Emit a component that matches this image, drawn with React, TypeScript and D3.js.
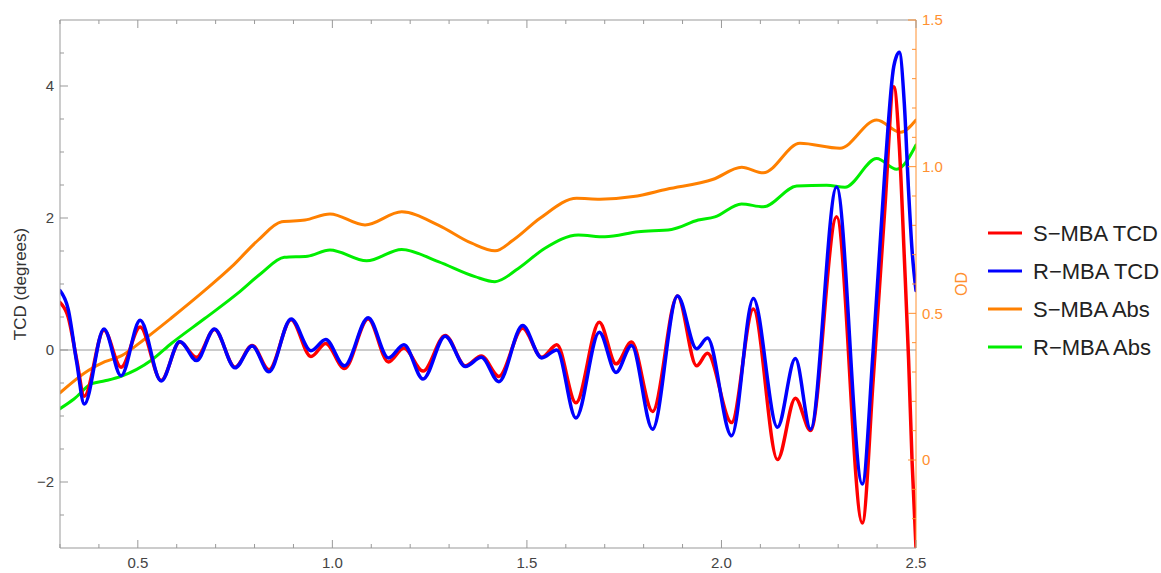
import React from 'react';
import * as d3 from 'd3';

// TCD curves (left axis, degrees)
const tcdX = [0.300, 0.321, 0.343, 0.3625, 0.413, 0.457, 0.506, 0.560, 0.608, 0.651, 0.697, 0.750, 0.794, 0.837, 0.894, 0.945, 0.983, 1.031, 1.092, 1.144, 1.184, 1.233, 1.290, 1.342, 1.383, 1.428, 1.489, 1.538, 1.577, 1.626, 1.686, 1.729, 1.769, 1.823, 1.887, 1.936, 1.964, 2.026, 2.082, 2.144, 2.190, 2.229, 2.296, 2.362, 2.390, 2.420, 2.443, 2.457, 2.470, 2.481, 2.490, 2.500];
const sMbaTcd = [0.72, 0.50, -0.15, -0.70, 0.30, -0.26, 0.35, -0.46, 0.12, -0.11, 0.31, -0.26, 0.07, -0.30, 0.46, -0.10, 0.10, -0.28, 0.47, -0.18, 0.03, -0.32, 0.22, -0.24, -0.09, -0.40, 0.33, -0.11, 0.08, -0.80, 0.42, -0.21, 0.12, -0.93, 0.82, -0.24, -0.05, -1.10, 0.62, -1.66, -0.73, -1.22, 2.02, -2.62, -0.45, 2.15, 3.99, 3.10, 1.40, -0.15, -1.70, -3.00];
const rMbaTcd = [0.90, 0.62, -0.19, -0.82, 0.32, -0.39, 0.45, -0.47, 0.13, -0.16, 0.32, -0.27, 0.06, -0.33, 0.47, -0.01, 0.16, -0.24, 0.49, -0.12, 0.08, -0.44, 0.21, -0.25, -0.11, -0.48, 0.37, -0.12, 0.00, -1.03, 0.27, -0.34, 0.07, -1.20, 0.82, 0.02, 0.18, -1.30, 0.78, -1.17, -0.13, -1.20, 2.47, -2.03, 0.00, 2.71, 4.30, 4.51, 3.73, 2.40, 1.50, 0.90];

// Absorbance curves (right axis, OD)
const sAbsX = [0.300, 0.3727, 0.4155, 0.4586, 0.5152, 0.5869, 0.6727, 0.7413, 0.8096, 0.8698, 0.9297, 0.9939, 1.0839, 1.1782, 1.2722, 1.3581, 1.4180, 1.4650, 1.5336, 1.6279, 1.6878, 1.7734, 1.8592, 1.9790, 2.0520, 2.1075, 2.2018, 2.3046, 2.3989, 2.4606, 2.500];
const sMbaAbs = [0.229, 0.305, 0.335, 0.356, 0.410, 0.485, 0.579, 0.659, 0.750, 0.812, 0.818, 0.839, 0.801, 0.846, 0.801, 0.739, 0.713, 0.750, 0.824, 0.892, 0.889, 0.898, 0.923, 0.957, 0.998, 0.979, 1.080, 1.063, 1.159, 1.117, 1.159];
const rAbsX = [0.300, 0.336, 0.3815, 0.4155, 0.4586, 0.5357, 0.5869, 0.6727, 0.7565, 0.8165, 0.8764, 0.9363, 0.9939, 1.0881, 1.1782, 1.2722, 1.3666, 1.4180, 1.4779, 1.5464, 1.6320, 1.7006, 1.7862, 1.8717, 1.9403, 1.9831, 2.0515, 2.1075, 2.1933, 2.2704, 2.3174, 2.3989, 2.4503, 2.500];
const rMbaAbs = [0.175, 0.208, 0.260, 0.270, 0.286, 0.341, 0.398, 0.483, 0.568, 0.636, 0.691, 0.695, 0.716, 0.679, 0.718, 0.676, 0.625, 0.608, 0.653, 0.722, 0.767, 0.761, 0.778, 0.786, 0.818, 0.829, 0.873, 0.863, 0.934, 0.937, 0.930, 1.028, 0.991, 1.074];

const xMajorTicks = [0.5, 1.0, 1.5, 2.0, 2.5];
const leftMajorTicks = [-2, 0, 2, 4];
const rightMajorTicks = [0, 0.5, 1.0, 1.5];
const legendLabels = ['S\u2212MBA TCD', 'R\u2212MBA TCD', 'S\u2212MBA Abs', 'R\u2212MBA Abs'];
const seriesColors = ['#FF0000', '#0000FF', '#FF8000', '#00EE00'];

export default function App() {
  const W = 1161, H = 573;
  const L = 60, R = 916, T = 20, B = 548;
  const x = d3.scaleLinear().domain([0.3, 2.5]).range([L, R]);
  const yL = d3.scaleLinear().domain([-3, 5]).range([B, T]);
  const yR = d3.scaleLinear().domain([-0.3, 1.5]).range([B, T]);

  const frame = '#999999';
  const orangeAxis = '#FF9030';
  const labelColor = '#444444';
  const tickFont = 15;

  const mkLine = (xs: number[], ys: number[], ys2: any) =>
    d3.line<number>().x((_, i) => x(xs[i])).y((_, i) => ys2(ys[i])).curve(d3.curveMonotoneX)(ys) || '';

  const xMinor = d3.range(3, 26).map(i => i / 10).filter(v => !xMajorTicks.some(m => Math.abs(m - v) < 1e-6));
  const leftMinor = d3.range(-6, 11).map(i => i / 2).filter(v => !leftMajorTicks.includes(v) && v > -3 && v < 5);
  const rightMinor = d3.range(-3, 16).map(i => i / 10).filter(v => !rightMajorTicks.some(m => Math.abs(m - v) < 1e-6) && v > -0.3);

  const fmt = (v: number) => (v < 0 ? '\u2212' + Math.abs(v) : String(v));
  const fmt1 = (v: number) => (v === 0 ? '0' : v.toFixed(1));

  return (
    <svg width={W} height={H} style={{ position: 'absolute', left: 0, top: 0, background: '#fff' }}
      fontFamily="'Liberation Sans', Arial, sans-serif">
      <defs>
        <clipPath id="plotclip">
          <rect x={L} y={T} width={R - L} height={B - T} />
        </clipPath>
      </defs>
      <rect x={0} y={0} width={W} height={H} fill="#fff" />

      {/* zero line */}
      <line x1={L} x2={R} y1={yL(0)} y2={yL(0)} stroke="#999" strokeWidth={1.2} />

      {/* curves */}
      <g clipPath="url(#plotclip)" fill="none" strokeLinejoin="round" strokeLinecap="round">
        <path d={mkLine(sAbsX, sMbaAbs, yR)} stroke={seriesColors[2]} strokeWidth={3} />
        <path d={mkLine(rAbsX, rMbaAbs, yR)} stroke={seriesColors[3]} strokeWidth={3} />
        <path d={mkLine(tcdX, sMbaTcd, yL)} stroke={seriesColors[0]} strokeWidth={3.5} />
        <path d={mkLine(tcdX, rMbaTcd, yL)} stroke={seriesColors[1]} strokeWidth={3.5} />
      </g>

      {/* frame */}
      <line x1={L} x2={R} y1={T} y2={T} stroke={frame} strokeWidth={1} />
      <line x1={L} x2={R} y1={B} y2={B} stroke={frame} strokeWidth={1} />
      <line x1={L} x2={L} y1={T} y2={B} stroke={frame} strokeWidth={1} />
      <line x1={R} x2={R} y1={T} y2={B} stroke={orangeAxis} strokeWidth={1} />

      {/* bottom & top ticks */}
      {xMajorTicks.map(v => (
        <g key={'xM' + v}>
          <line x1={x(v)} x2={x(v)} y1={B} y2={B - 8} stroke={frame} />
          <line x1={x(v)} x2={x(v)} y1={T} y2={T + 8} stroke={frame} />
          <text x={x(v)} y={B + 19.5} fontSize={tickFont} fill={labelColor} textAnchor="middle">{v.toFixed(1)}</text>
        </g>
      ))}
      {xMinor.map(v => (
        <g key={'xm' + v}>
          <line x1={x(v)} x2={x(v)} y1={B} y2={B - 4} stroke={frame} />
          <line x1={x(v)} x2={x(v)} y1={T} y2={T + 4} stroke={frame} />
        </g>
      ))}

      {/* left ticks */}
      {leftMajorTicks.map(v => (
        <g key={'lM' + v}>
          <line x1={L} x2={L + 8} y1={yL(v)} y2={yL(v)} stroke={frame} />
          <text x={L - 6} y={yL(v)} dy="0.35em" fontSize={tickFont} fill={labelColor} textAnchor="end">{fmt(v)}</text>
        </g>
      ))}
      {leftMinor.map(v => (
        <line key={'lm' + v} x1={L} x2={L + 4} y1={yL(v)} y2={yL(v)} stroke={frame} />
      ))}

      {/* right ticks */}
      {rightMajorTicks.map(v => (
        <g key={'rM' + v}>
          <line x1={R} x2={R - 8} y1={yR(v)} y2={yR(v)} stroke={orangeAxis} />
          <text x={R + 6} y={yR(v)} dy="0.35em" fontSize={tickFont} fill={orangeAxis} textAnchor="start">{fmt1(v)}</text>
        </g>
      ))}
      {rightMinor.map(v => (
        <line key={'rm' + v} x1={R} x2={R - 4} y1={yR(v)} y2={yR(v)} stroke={orangeAxis} />
      ))}

      {/* axis titles */}
      <text transform={`translate(26,${(T + B) / 2}) rotate(-90)`} fontSize={17} fill="#333" textAnchor="middle">TCD (degrees)</text>
      <text transform={`translate(967,${(T + B) / 2}) rotate(-90)`} fontSize={16} fill={orangeAxis} textAnchor="middle">OD</text>

      {/* legend */}
      {legendLabels.map((lab, i) => {
        const yy = 233 + i * 38;
        return (
          <g key={lab}>
            <line x1={988} x2={1022} y1={yy} y2={yy} stroke={seriesColors[i]} strokeWidth={3} />
            <text x={1033} y={yy} dy="0.35em" fontSize={22} fill="#222">{lab}</text>
          </g>
        );
      })}
    </svg>
  );
}
